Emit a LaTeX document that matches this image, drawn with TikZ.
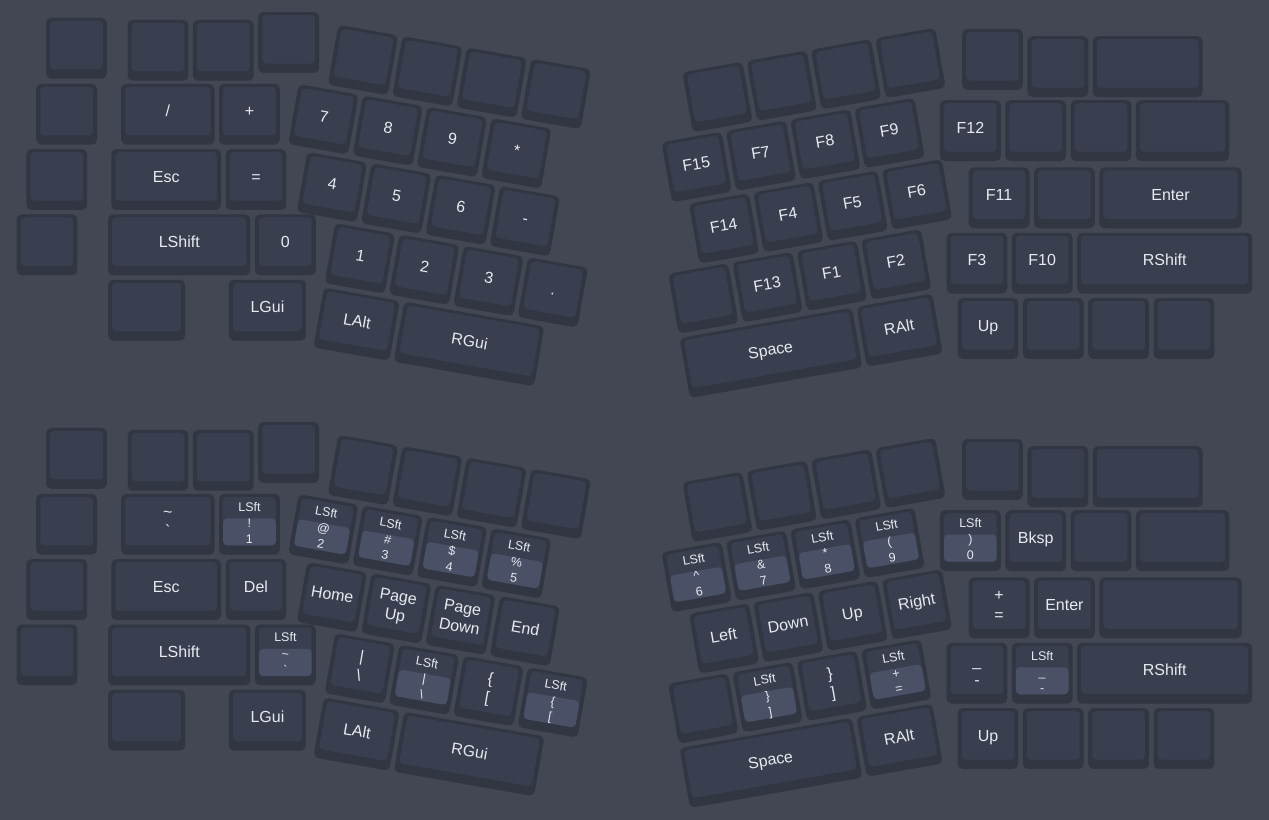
\documentclass[tikz,border=0pt]{standalone}
\usepackage{fontspec}
\setmainfont{Liberation Sans}
\definecolor{kbbg}{HTML}{424753}
\definecolor{kbrim}{HTML}{323643}
\definecolor{kbtop}{HTML}{3A3F50}
\definecolor{kbsft}{HTML}{4A5065}
\definecolor{kbtext}{HTML}{E8EAF0}
% key with one legend: name, x, y, width (units), legend
\newcommand{\kcap}[5]{%
  \node[rim,minimum width={#4*65.3pt-4.5pt}] (#1) at ({#2+#4/2},{#3+0.5}) {};
  \node[face,minimum width={#4*65.3pt-12.6pt}] (#1-t) at ({#2+#4/2},{#3+0.452}) {#5};}
% key with two stacked legends
\newcommand{\kcapp}[6]{%
  \node[rim,minimum width={#4*65.3pt-4.5pt}] (#1) at ({#2+#4/2},{#3+0.5}) {};
  \node[face,minimum width={#4*65.3pt-12.6pt}] (#1-t) at ({#2+#4/2},{#3+0.452}) {};
  \node[lbl] (#1-a) at ({#2+#4/2},{#3+0.306}) {#5};
  \node[lbl] (#1-b) at ({#2+#4/2},{#3+0.598}) {#6};}
% shifted key: LSft on top, legends in the light box
\newcommand{\scap}[6]{%
  \node[rim,minimum width={#4*65.3pt-4.5pt}] (#1) at ({#2+#4/2},{#3+0.5}) {};
  \node[face,minimum width={#4*65.3pt-12.6pt}] (#1-t) at ({#2+#4/2},{#3+0.452}) {};
  \node[slbl] (#1-l) at ({#2+#4/2},{#3+0.229}) {LSft};
  \node[sbox,minimum width={#4*65.3pt-12.6pt}] (#1-s) at ({#2+#4/2},{#3+0.616}) {};
  \node[slbl] (#1-a) at ({#2+#4/2},{#3+0.48}) {#5};
  \node[slbl] (#1-b) at ({#2+#4/2},{#3+0.724}) {#6};}

\begin{document}
\begin{tikzpicture}[x=65.3pt,y=-65.3pt,
  rim/.style={fill=kbrim,rounded corners=5pt,minimum height=60.8pt,inner sep=0pt},
  face/.style={fill=kbtop,rounded corners=4pt,minimum height=48.5pt,inner sep=0pt,
    text=kbtext,font=\fontsize{16}{19}\selectfont,text height=11.5pt,text depth=0pt},
  lbl/.style={inner sep=0pt,text=kbtext,font=\fontsize{16}{19}\selectfont,text height=11.5pt,text depth=0pt},
  sbox/.style={fill=kbsft,rounded corners=4pt,minimum height=27pt,inner sep=0pt},
  slbl/.style={inner sep=0pt,text=kbtext,font=\fontsize{12.5}{15}\selectfont,text height=9pt,text depth=0pt}
]
\fill[kbbg] (0,0) rectangle (19.433,12.557);

% ---- upper layer ----
% left, outer columns
\kcap{t-lo-11}{0.67}{0.24}{1}{} \kcap{t-lo-12}{1.92}{0.27}{1}{} \kcap{t-lo-13}{2.92}{0.27}{1}{} \kcap{t-lo-14}{3.92}{0.15}{1}{}
\kcap{t-lo-21}{0.52}{1.25}{1}{} \kcap{t-lo-22}{1.82}{1.25}{1.5}{/} \kcap{t-lo-23}{3.32}{1.25}{1}{+}
\kcap{t-lo-31}{0.37}{2.25}{1}{} \kcap{t-lo-32}{1.67}{2.25}{1.75}{Esc} \kcap{t-lo-33}{3.42}{2.25}{1}{=}
\kcap{t-lo-41}{0.22}{3.25}{1}{} \kcap{t-lo-42}{1.62}{3.25}{2.25}{LShift} \kcap{t-lo-43}{3.87}{3.25}{1}{0}
\kcap{t-lo-51}{1.62}{4.25}{1.25}{} \kcap{t-lo-52}{3.47}{4.25}{1.25}{LGui}
% left, angled block
\begin{scope}[shift={(5.153,0.340)},rotate=-10,transform shape]
\kcap{t-li-11}{0}{0}{1}{} \kcap{t-li-12}{1}{0}{1}{} \kcap{t-li-13}{2}{0}{1}{} \kcap{t-li-14}{3}{0}{1}{}
\kcap{t-li-21}{-0.44}{1}{1}{7} \kcap{t-li-22}{0.56}{1}{1}{8} \kcap{t-li-23}{1.56}{1}{1}{9} \kcap{t-li-24}{2.56}{1}{1}{*}
\kcap{t-li-31}{-0.13}{2}{1}{4} \kcap{t-li-32}{0.87}{2}{1}{5} \kcap{t-li-33}{1.87}{2}{1}{6} \kcap{t-li-34}{2.87}{2}{1}{-}
\kcap{t-li-41}{0.48}{3}{1}{1} \kcap{t-li-42}{1.48}{3}{1}{2} \kcap{t-li-43}{2.48}{3}{1}{3} \kcap{t-li-44}{3.48}{3}{1}{.}
\kcap{t-li-51}{0.48}{4}{1.25}{LAlt} \kcap{t-li-52}{1.73}{4}{2.25}{RGui}
\end{scope}
% right, angled block
\begin{scope}[shift={(10.409,1.080)},rotate=10,transform shape]
\kcap{t-ri-11}{0}{0}{1}{} \kcap{t-ri-12}{1}{0}{1}{} \kcap{t-ri-13}{2}{0}{1}{} \kcap{t-ri-14}{3}{0}{1}{}
\kcap{t-ri-21}{-0.5}{1}{1}{F15} \kcap{t-ri-22}{0.5}{1}{1}{F7} \kcap{t-ri-23}{1.5}{1}{1}{F8} \kcap{t-ri-24}{2.5}{1}{1}{F9}
\kcap{t-ri-31}{-0.25}{2}{1}{F14} \kcap{t-ri-32}{0.75}{2}{1}{F4} \kcap{t-ri-33}{1.75}{2}{1}{F5} \kcap{t-ri-34}{2.75}{2}{1}{F6}
\kcap{t-ri-41}{-0.75}{3}{1}{} \kcap{t-ri-42}{0.25}{3}{1}{F13} \kcap{t-ri-43}{1.25}{3}{1}{F1} \kcap{t-ri-44}{2.25}{3}{1}{F2}
\kcap{t-ri-51}{-0.75}{4}{2.75}{Space} \kcap{t-ri-52}{2}{4}{1.25}{RAlt}
\end{scope}
% right, outer columns
\kcap{t-ro-11}{14.70}{0.41}{1}{} \kcap{t-ro-12}{15.70}{0.52}{1}{} \kcap{t-ro-13}{16.70}{0.52}{1.75}{}
\kcap{t-ro-21}{14.36}{1.50}{1}{F12} \kcap{t-ro-22}{15.36}{1.50}{1}{} \kcap{t-ro-23}{16.36}{1.50}{1}{} \kcap{t-ro-24}{17.36}{1.50}{1.5}{}
\kcap{t-ro-31}{14.80}{2.53}{1}{F11} \kcap{t-ro-32}{15.80}{2.53}{1}{} \kcap{t-ro-33}{16.80}{2.53}{2.25}{Enter}
\kcap{t-ro-41}{14.46}{3.53}{1}{F3} \kcap{t-ro-42}{15.46}{3.53}{1}{F10} \kcap{t-ro-43}{16.46}{3.53}{2.75}{RShift}
\kcap{t-ro-51}{14.63}{4.53}{1}{Up} \kcap{t-ro-52}{15.63}{4.53}{1}{} \kcap{t-ro-53}{16.63}{4.53}{1}{} \kcap{t-ro-54}{17.63}{4.53}{1}{}

% ---- lower layer ----
\begin{scope}[shift={(0,6.279)}]
% left, outer columns
\kcap{b-lo-11}{0.67}{0.24}{1}{} \kcap{b-lo-12}{1.92}{0.27}{1}{} \kcap{b-lo-13}{2.92}{0.27}{1}{} \kcap{b-lo-14}{3.92}{0.15}{1}{}
\kcap{b-lo-21}{0.52}{1.25}{1}{} \kcapp{b-lo-22}{1.82}{1.25}{1.5}{\textasciitilde}{\textasciigrave} \scap{b-lo-23}{3.32}{1.25}{1}{!}{1}
\kcap{b-lo-31}{0.37}{2.25}{1}{} \kcap{b-lo-32}{1.67}{2.25}{1.75}{Esc} \kcap{b-lo-33}{3.42}{2.25}{1}{Del}
\kcap{b-lo-41}{0.22}{3.25}{1}{} \kcap{b-lo-42}{1.62}{3.25}{2.25}{LShift} \scap{b-lo-43}{3.87}{3.25}{1}{\textasciitilde}{\textasciigrave}
\kcap{b-lo-51}{1.62}{4.25}{1.25}{} \kcap{b-lo-52}{3.47}{4.25}{1.25}{LGui}
% left, angled block
\begin{scope}[shift={(5.153,0.340)},rotate=-10,transform shape]
\kcap{b-li-11}{0}{0}{1}{} \kcap{b-li-12}{1}{0}{1}{} \kcap{b-li-13}{2}{0}{1}{} \kcap{b-li-14}{3}{0}{1}{}
\scap{b-li-21}{-0.44}{1}{1}{@}{2} \scap{b-li-22}{0.56}{1}{1}{\#}{3} \scap{b-li-23}{1.56}{1}{1}{\$}{4} \scap{b-li-24}{2.56}{1}{1}{\%}{5}
\kcap{b-li-31}{-0.13}{2}{1}{Home} \kcapp{b-li-32}{0.87}{2}{1}{Page}{Up} \kcapp{b-li-33}{1.87}{2}{1}{Page}{Down} \kcap{b-li-34}{2.87}{2}{1}{End}
\kcapp{b-li-41}{0.48}{3}{1}{|}{\textbackslash} \scap{b-li-42}{1.48}{3}{1}{|}{\textbackslash} \kcapp{b-li-43}{2.48}{3}{1}{\{}{[} \scap{b-li-44}{3.48}{3}{1}{\{}{[}
\kcap{b-li-51}{0.48}{4}{1.25}{LAlt} \kcap{b-li-52}{1.73}{4}{2.25}{RGui}
\end{scope}
% right, angled block
\begin{scope}[shift={(10.409,1.080)},rotate=10,transform shape]
\kcap{b-ri-11}{0}{0}{1}{} \kcap{b-ri-12}{1}{0}{1}{} \kcap{b-ri-13}{2}{0}{1}{} \kcap{b-ri-14}{3}{0}{1}{}
\scap{b-ri-21}{-0.5}{1}{1}{\textasciicircum}{6} \scap{b-ri-22}{0.5}{1}{1}{\&}{7} \scap{b-ri-23}{1.5}{1}{1}{*}{8} \scap{b-ri-24}{2.5}{1}{1}{(}{9}
\kcap{b-ri-31}{-0.25}{2}{1}{Left} \kcap{b-ri-32}{0.75}{2}{1}{Down} \kcap{b-ri-33}{1.75}{2}{1}{Up} \kcap{b-ri-34}{2.75}{2}{1}{Right}
\kcap{b-ri-41}{-0.75}{3}{1}{} \scap{b-ri-42}{0.25}{3}{1}{\}}{]} \kcapp{b-ri-43}{1.25}{3}{1}{\}}{]} \scap{b-ri-44}{2.25}{3}{1}{+}{=}
\kcap{b-ri-51}{-0.75}{4}{2.75}{Space} \kcap{b-ri-52}{2}{4}{1.25}{RAlt}
\end{scope}
% right, outer columns
\kcap{b-ro-11}{14.70}{0.41}{1}{} \kcap{b-ro-12}{15.70}{0.52}{1}{} \kcap{b-ro-13}{16.70}{0.52}{1.75}{}
\scap{b-ro-21}{14.36}{1.50}{1}{)}{0} \kcap{b-ro-22}{15.36}{1.50}{1}{Bksp} \kcap{b-ro-23}{16.36}{1.50}{1}{} \kcap{b-ro-24}{17.36}{1.50}{1.5}{}
\kcapp{b-ro-31}{14.80}{2.53}{1}{+}{=} \kcap{b-ro-32}{15.80}{2.53}{1}{Enter} \kcap{b-ro-33}{16.80}{2.53}{2.25}{}
\kcapp{b-ro-41}{14.46}{3.53}{1}{\_}{-} \scap{b-ro-42}{15.46}{3.53}{1}{\_}{-} \kcap{b-ro-43}{16.46}{3.53}{2.75}{RShift}
\kcap{b-ro-51}{14.63}{4.53}{1}{Up} \kcap{b-ro-52}{15.63}{4.53}{1}{} \kcap{b-ro-53}{16.63}{4.53}{1}{} \kcap{b-ro-54}{17.63}{4.53}{1}{}
\end{scope}
\end{tikzpicture}
\end{document}
